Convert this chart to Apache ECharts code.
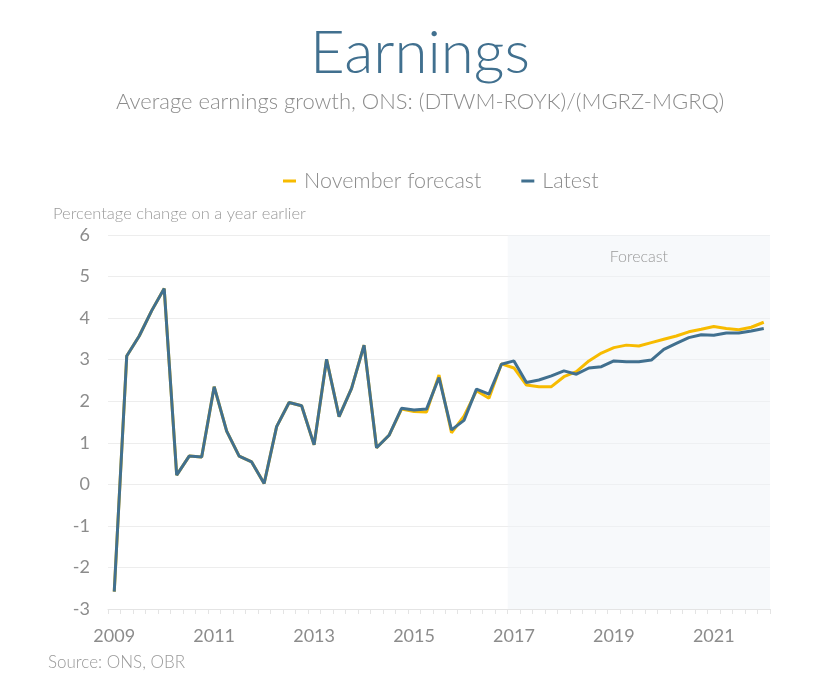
<!DOCTYPE html>
<html>
<head>
<meta charset="utf-8">
<script src="https://cdn.jsdelivr.net/npm/echarts@6/dist/echarts.min.js"></script>
<style>
html,body{margin:0;padding:0;background:#fff;}
#chart{width:840px;height:700px;}
</style>
</head>
<body>
<div id="chart"></div>
<script>
// Quarterly categories 2009 Q1 .. 2022 Q1
const categories = [];
for (let y = 2009; y <= 2022; y++) {
  for (let q = 1; q <= 4; q++) {
    if (y === 2022 && q > 1) break;
    categories.push(y + ' Q' + q);
  }
}
const yearLabels = ['2009','2011','2013','2015','2017','2019','2021'];

const latest = [
  -2.58, 3.09, 3.57, 4.18, 4.71, 0.22, 0.68, 0.66,
  2.35, 1.28, 0.68, 0.54, 0.02, 1.39, 1.97, 1.89,
  0.95, 3.01, 1.63, 2.31, 3.35, 0.88, 1.18, 1.83,
  1.79, 1.81, 2.57, 1.31, 1.54, 2.29, 2.17, 2.89,
  2.97, 2.45, 2.51, 2.61, 2.73, 2.65, 2.80, 2.83,
  2.97, 2.95, 2.95, 2.99, 3.25, 3.39, 3.53, 3.60,
  3.59, 3.64, 3.64, 3.69, 3.75
];
const novemberForecast = [
  -2.58, 3.09, 3.57, 4.18, 4.71, 0.22, 0.68, 0.66,
  2.35, 1.28, 0.68, 0.54, 0.02, 1.39, 1.97, 1.89,
  0.95, 3.01, 1.63, 2.31, 3.35, 0.88, 1.18, 1.81,
  1.75, 1.74, 2.63, 1.24, 1.64, 2.25, 2.07, 2.90,
  2.80, 2.39, 2.35, 2.35, 2.59, 2.71, 2.97, 3.16,
  3.29, 3.35, 3.33, 3.41, 3.49, 3.57, 3.67, 3.73,
  3.80, 3.75, 3.72, 3.78, 3.90
];
const forecastStart = '2017 Q1';

const blue = '#41708f';
const yellow = '#f7bb00';
const grey = '#8c8c8c';
const font = 'Lato';

const startIdx = categories.indexOf(forecastStart);

const chart = echarts.init(document.getElementById('chart'), null, {renderer: 'canvas'});
chart.setOption({
  backgroundColor: '#ffffff',
  animation: false,
  textStyle: {fontFamily: font},
  title: [
    {text: 'Earnings', left: 'center', top: 19,
     textStyle: {fontFamily: font, fontSize: 60, fontWeight: 300, color: blue}},
    {text: 'Average earnings growth, ONS: (DTWM-ROYK)/(MGRZ-MGRQ)', left: 'center', top: 86,
     textStyle: {fontFamily: font, fontSize: 22, fontWeight: 300, color: grey}},
    {text: 'Percentage change on a year earlier', left: 48, top: 200,
     textStyle: {fontFamily: font, fontSize: 16.5, fontWeight: 300, color: '#999'}},
    {text: 'Source: ONS, OBR', left: 43, top: 649,
     textStyle: {fontFamily: font, fontSize: 17, fontWeight: 300, color: '#999'}}
  ],
  legend: {
    top: 165, left: 278,
    itemWidth: 13, itemHeight: 3, itemGap: 40,
    icon: 'rect',
    data: ['November forecast', 'Latest'],
    textStyle: {fontFamily: font, fontSize: 21.5, fontWeight: 300, color: grey, padding: [0, 0, 0, 3]}
  },
  grid: {left: 108, right: 70, top: 235, bottom: 91},
  xAxis: [
    {
      type: 'category', data: categories, boundaryGap: true,
      axisLine: {show: false}, axisTick: {show: false},
      axisLabel: {
        interval: (i, v) => yearLabels.indexOf(v.slice(0, 4)) >= 0 && v.endsWith('Q1'),
        formatter: v => v.slice(0, 4),
        margin: 18, fontSize: 18, color: grey, fontFamily: font
      },
      splitLine: {show: false}
    },
    {
      type: 'value', min: 0, max: categories.length, interval: 1,
      position: 'bottom',
      axisLine: {show: true, onZero: true, lineStyle: {color: '#e4e4e4'}},
      axisTick: {show: true, length: 5, lineStyle: {color: '#e4e4e4'}},
      axisLabel: {show: false},
      splitLine: {show: false}
    }
  ],
  yAxis: {
    type: 'value', min: -3, max: 6, interval: 1,
    axisLine: {show: false}, axisTick: {show: false},
    axisLabel: {fontSize: 18, color: grey, margin: 18, fontFamily: font},
    splitLine: {lineStyle: {color: '#ededed', width: 1}}
  },
  series: [
    {
      name: 'Forecast area', type: 'line', xAxisIndex: 1, data: [],
      silent: true,
      markArea: {
        silent: true,
        itemStyle: {color: 'rgba(240,243,247,0.5)'},
        label: {show: true, position: 'insideTop', distance: 14,
                fontSize: 16, color: '#999', fontFamily: font, fontWeight: 300},
        data: [[{name: 'Forecast', xAxis: startIdx}, {xAxis: categories.length}]]
      }
    },
    {
      name: 'November forecast', type: 'line', data: novemberForecast,
      symbol: 'none', color: yellow,
      lineStyle: {width: 3, color: yellow}
    },
    {
      name: 'Latest', type: 'line', data: latest,
      symbol: 'none', color: blue,
      lineStyle: {width: 3, color: blue}
    }
  ]
});
</script>
</body>
</html>
